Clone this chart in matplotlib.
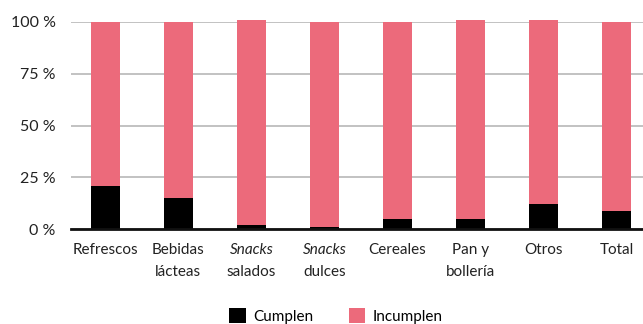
import numpy as np
import matplotlib
matplotlib.use('Agg')
import matplotlib.pyplot as plt
from matplotlib.patches import Patch
from matplotlib.transforms import blended_transform_factory

# categories: (first line, italic?, second line)
cat_line1 = ['Refrescos', 'Bebidas', 'Snacks', 'Snacks', 'Cereales', 'Pan y', 'Otros', 'Total']
cat_line1_italic = [False, False, True, True, False, False, False, False]
cat_line2 = ['', 'lácteas', 'salados', 'dulces', '', 'bollería', '', '']

# shares in percent
cumplen = [21, 15, 2, 1, 5, 5, 12, 9]
incumplen = [79, 85, 99, 99, 95, 96, 89, 91]

yticks = [0, 25, 50, 75, 100]
ytick_labels = ['0 %', '25 %', '50 %', '75 %', '100 %']

black = '#000000'
pink = '#EC6A7B'
grid_grey = '#BDBDBD'

plt.rcParams['font.family'] = ['Lato', 'DejaVu Sans']

fig = plt.figure(figsize=(6.43, 3.24), dpi=100)
ax = fig.add_axes([71/643, 1 - 229.3/324, 1 - 71/643, (229.3 - 21.7)/324])

x = np.arange(len(cumplen))
w = 0.4
ax.bar(x, cumplen, width=w, color=black, zorder=3, clip_on=False)
ax.bar(x, incumplen, width=w, bottom=cumplen, color=pink, zorder=3, clip_on=False)

ax.set_xlim(-0.47, 7.36)
ax.set_ylim(0, 100)
ax.set_yticks(yticks)
ax.set_yticklabels(ytick_labels, fontsize=11.5, color='#222222')
ax.yaxis.grid(True, color=grid_grey, linewidth=1.3, zorder=0)
ax.tick_params(axis='y', length=0, pad=11)
ax.set_xticks([])

for s in ['top', 'right', 'left']:
    ax.spines[s].set_visible(False)
ax.spines['bottom'].set_linewidth(2)
ax.spines['bottom'].set_color('#111111')
ax.spines['bottom'].set_zorder(4)

# two-line category labels under the axis
trans = blended_transform_factory(ax.transData, fig.transFigure)
for i in range(len(cat_line1)):
    ax.text(x[i], 1 - 250/324, cat_line1[i], transform=trans, ha='center', va='center',
            fontsize=11, color='#222222',
            style='italic' if cat_line1_italic[i] else 'normal', clip_on=False)
    if cat_line2[i]:
        ax.text(x[i], 1 - 271.5/324, cat_line2[i], transform=trans, ha='center', va='center',
                fontsize=11, color='#222222', clip_on=False)

handles = [Patch(facecolor=black, label='Cumplen'), Patch(facecolor=pink, label='Incumplen')]
fig.legend(handles=handles, loc='upper center', bbox_to_anchor=(336/643, 1 - 308/324),
           ncol=2, frameon=False, fontsize=11, handlelength=1.1, handleheight=1.1,
           handletextpad=0.5, columnspacing=2.3, borderpad=0, borderaxespad=0)

fig.savefig('out.png', dpi=100)
